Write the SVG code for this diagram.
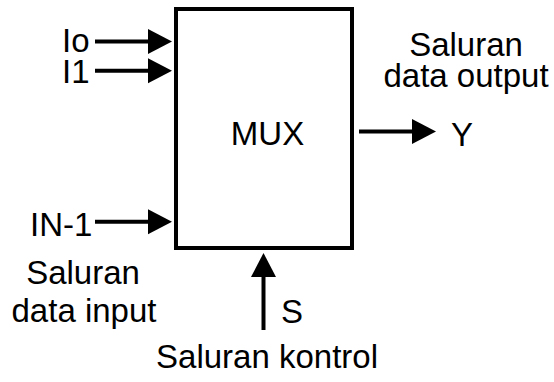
<svg xmlns="http://www.w3.org/2000/svg" width="554" height="382" viewBox="0 0 554 382">
  <style>
    text { font-family: "Liberation Sans", Arial, sans-serif; font-size: 33px; fill: #000; }
    .c { text-anchor: middle; }
    .wire { stroke: #000; stroke-width: 4; fill: none; }
    .box { stroke: #000; stroke-width: 4; fill: #fff; }
  </style>
  <defs>
    <marker id="arr" markerUnits="userSpaceOnUse" markerWidth="25" markerHeight="26" refX="0" refY="12.5" orient="auto" overflow="visible">
      <path d="M0,0 L24,12.5 L0,25 Z" fill="#000"/>
    </marker>
  </defs>
  <rect width="554" height="382" fill="#fff"/>
  <g id="mux">
    <rect class="box" x="176" y="9" width="176" height="239"/>
    <text class="c" x="267.5" y="145">MUX</text>
  </g>
  <g id="in0"><text x="62" y="52">Io</text></g>
  <g id="in1"><text x="62" y="83">I1</text></g>
  <g id="inN"><text x="30" y="236">IN-1</text></g>
  <g id="input-label">
    <text class="c" x="83" y="284">Saluran</text>
    <text class="c" x="84" y="322">data input</text>
  </g>
  <g id="output-label">
    <text class="c" x="466" y="56">Saluran</text>
    <text class="c" x="466" y="87">data output</text>
  </g>
  <g id="out"><text x="451" y="146">Y</text></g>
  <g id="sel"><text x="281" y="323">S</text></g>
  <g id="control-label"><text class="c" x="267" y="368">Saluran kontrol</text></g>
  <g id="connectors">
    <line class="wire" x1="95" y1="41.5" x2="148" y2="41.5" marker-end="url(#arr)"/>
    <line class="wire" x1="95" y1="70.7" x2="148" y2="70.7" marker-end="url(#arr)"/>
    <line class="wire" x1="95" y1="221.7" x2="148" y2="221.7" marker-end="url(#arr)"/>
    <line class="wire" x1="359" y1="131.5" x2="412" y2="131.5" marker-end="url(#arr)"/>
    <line class="wire" x1="263.5" y1="330" x2="263.5" y2="277" marker-end="url(#arr)"/>
  </g>
</svg>
